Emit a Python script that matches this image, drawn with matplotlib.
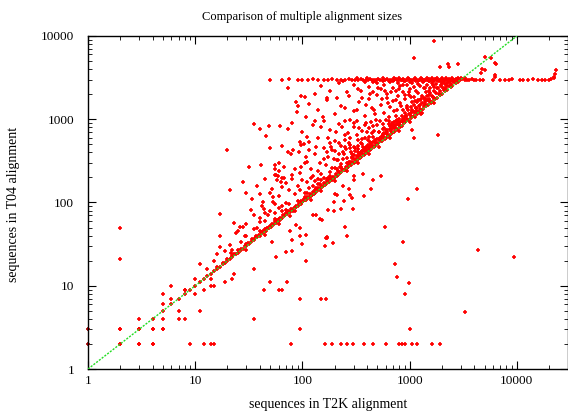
import matplotlib
matplotlib.use("Agg")
import matplotlib.pyplot as plt
from matplotlib.ticker import FixedLocator, NullFormatter, FuncFormatter
import numpy as np

plt.rcParams['font.family'] = ['Liberation Serif', 'DejaVu Serif']

title = "Comparison of multiple alignment sizes"
xlabel = "sequences in T2K alignment"
ylabel = "sequences in T04 alignment"
major_ticks = [1, 10, 100, 1000, 10000]

# points close to the diagonal (T2K size, T04 size)
diag = [(2,2),(3,3),(4,4),(5,5),(6,6),(7,7),(8,8),(8,9),(9,9),(10,10),(11,11),(12,12),(13,13),(14,14),(15,15),(16,16),(16,17),(17,17),(18,18),(18,19),(19,19),(20,20),(20,21),(21,21),(22,22),(22,23),(23,24),(24,24),(25,25),(25,27),(26,26),(27,28),(28,28),(29,30),(30,30),(30,32),(31,33),(32,32),(33,34),(34,36),(35,35),(36,37),(37,40),(38,38),(39,41),(40,40),(41,44),(42,43),(43,45),(44,44),(45,48),(46,46),(47,49),(48,50),(49,49),(50,52),(51,51),(52,55),(53,53),(55,56),(56,60),(57,57),(58,61),(60,60),(61,63),(62,66),(63,64),(65,65),(66,70),(67,68),(69,70),(70,74),(71,72),(72,72),(74,78),(75,76),(77,77),(78,84),(80,81),(81,80),(83,86),(85,85),(87,92),(88,89),(90,90),(92,97),(94,95),(96,96),(98,104),(100,100),(102,103),(104,110),(106,107),(108,108),(110,118),(112,113),(115,115),(117,125),(120,121),(122,122),(125,132),(127,128),(130,130),(132,140),(135,136),(138,138),(140,150),(143,144),(146,146),(150,158),(153,154),(156,156),(160,171),(163,164),(166,166),(170,180),(173,174),(176,176),(180,193),(184,185),(188,188),(192,205),(196,197),(200,200),(205,220),(210,211),(215,215),(220,235),(225,226),(230,230),(236,250),(242,243),(248,248),(255,270),(260,262),(266,266),(272,290),(278,279),(285,285),(292,310),(300,301),(307,307),(315,335),(322,323),(330,330),(338,360),(346,347),(355,355),(364,385),(372,374),(380,380),(390,415),(400,401),(410,410),(420,445),(430,432),(440,440),(452,480),(463,465),(475,475),(487,520),(500,502),(512,512),(525,560),(540,542),(555,555),(570,610),(585,587),(600,600),(618,660),(635,637),(650,650),(670,720),(690,692),(710,710),(730,780),(750,752),(770,770),(795,850),(815,818),(840,840),(865,925),(890,892),(915,915),(945,1010),(970,973),(1000,1000),(1030,1100),(1060,1063),(1100,1100),(1130,1210),(1170,1172),(1210,1210),(1250,1340),(1290,1292),(1330,1330),(1380,1480),(1420,1425),(1470,1470),(1520,1640),(1570,1575),(1620,1620),(1680,1800),(1740,1745),(1800,1800),(1870,2000),(1940,1945),(2000,2000),(2080,2230),(2160,2165),(2240,2240),(2330,2480),(2420,2425),(2500,2500),(2600,2780),(2700,2705),(2800,2800),(2900,3000),
        (30,27),(45,41),(60,55),(85,78),(120,108),(150,136),(200,182),(260,240),(330,300),(420,385),(520,470),(650,590),(800,730),(1000,920),(1300,1200),(1700,1580),
        (40,46),(55,64),(70,82),(90,105),(110,130),(140,165),(180,210),(230,270),(290,340),(370,430),(460,540),(580,680),(720,850),(900,1060),(1150,1350),(1450,1700),
        (105,115),(135,150),(175,195),(215,240),(280,310),(350,390),(440,490),(560,620),(700,780),(880,980),(1100,1230),(1400,1560)]

# points in the triangle above the diagonal
upper = [(73,2360),(98,1890),(106,1850),(150,2500),(180,2200),(220,2700),(260,2100),(300,2600),(330,2300),(380,2800),(420,2450),(460,2100),(500,2700),(540,2300),(580,2600),(620,2000),(660,2800),(700,2400),(740,2200),(780,2700),(820,2500),(860,2100),(900,2850),(950,2600),(1000,2300),(1050,2750),(1100,2450),(1150,2200),(1200,2650),(1260,2500),(1320,2800),(1380,2350),(1450,2600),(1520,2200),(1600,2750),(1680,2450),(1760,2650),(1850,2900),(1950,2550),(2050,2800),(2150,2400),(2250,2700),(2400,2900),(2600,2950),(700,2900),(850,2950),(1000,2800),(1150,2900),(1300,2950),(1500,2850),(1700,2950),(460,2800),(560,2900),(240,2900),(130,2000),(170,1800),
         (88,1630),(90,1440),(89,1230),(115,1530),(107,1060),(140,1300),(170,1700),(200,1150),(230,1450),(270,1900),(300,1250),(340,1600),(380,1100),(420,1750),(450,1350),(500,1950),(540,1500),(580,1200),(620,1800),(660,1400),(700,1650),(740,1100),(780,1900),(820,1550),(860,1300),(900,1750),(940,1450),(980,1950),(1020,1200),(1060,1600),(1100,1850),(1150,1350),(1200,1700),(1250,1500),(1300,1900),(1350,1450),(1400,1750),(1500,1950),(1550,1650),(1650,1850),(1700,1750),(1900,1950),(360,1800),(480,1150),(640,1050),(760,1300),(920,1100),(1040,1850),(1120,1050),(1180,1250),(1280,1150),(210,1800),(250,1350),(155,1050),
         (35,865),(40,754),(49,826),(62,826),(73,754),(46,626),(94,531),(103,510),(114,535),(80,900),(100,700),(125,850),(140,600),(160,950),(180,750),(200,550),(220,880),(250,650),(280,980),(300,800),(330,560),(360,720),(390,900),(420,620),(460,820),(490,980),(520,700),(560,880),(600,750),(640,960),(680,850),(720,920),(760,990),(800,880),(250,950),(320,950),(380,600),(450,680),(530,600),(570,650),(620,700),(660,760),(700,800),(740,850),(780,920),(850,950),(180,520),(150,800),(130,950),(110,620),(270,520),(350,520),(430,540),(480,560),(520,580),(550,610),
         (20,422),(98,485),(114,426),(82,426),(93,400),(73,400),(78,380),(109,353),(32,264),(41,280),(55,280),(55,256),(60,300),(67,264),(60,242),(56,214),(57,214),(67,198),(80,214),(85,254),(96,268),(94,225),(106,296),(110,308),(50,450),(65,480),(120,250),(130,380),(145,300),(160,450),(175,350),(190,260),(200,420),(215,320),(230,480),(245,380),(260,300),(275,450),(290,350),(310,420),(330,480),(350,400),(370,460),(390,430),(410,490),(430,470),(135,460),(150,220),(165,280),(180,230),(195,330),(210,250),(225,270),(240,330),(255,440),(270,310),(285,400),(300,370),(320,360),(340,380),(360,420),(380,440),(400,470),(125,210),(140,240),(170,400),(185,470),(220,380),(250,470),(280,490),(300,470),(330,440),
         (21,140),(34,110),(43,100),(53,100),(59,211),(58,186),(63,178),(64,155),(52,144),(53,117),(30,130),(38,160),(45,190),(50,130),(60,120),(70,170),(75,140),(80,190),(85,125),(90,160),(95,140),(100,185),(105,130),(110,175),(115,150),(120,195),(125,160),(130,180),(135,145),(140,190),(145,165),(150,185),(160,195),(170,190),(180,198),(65,195),(40,125),(28,175),
         (17,72),(17,40),(17,29),(21,31),(22,27),(21.5,25),(44,83),(45,74),(40,58),(23,57),(26,51),(28,51),(29,40),(33,81),(24,43),(27,34),(25,45),(30,55),(35,70),(38,50),(42,90),(48,70),(55,95),(60,85),(65,90),(70,98),(30,40),(35,48),(40,65),(50,80),(45,60),(55,75),(65,80),(75,95),(11,18),(6,10),(10,12),(5,8),(3,4),(8,9),(2,50),(2,21),(13,16),(15,20),(19,26),(16,24)]

# extra points in the dense part of the triangle
upper_dense = [(200,260),(210,320),(230,290),(240,400),(260,340),(270,280),(290,380),(300,330),(310,450),(330,400),(340,360),(360,500),(380,420),(390,470),(410,560),(420,480),(440,520),(460,620),(480,540),(500,580),(520,700),(540,620),(560,660),(580,780),(600,690),(620,740),(650,820),(670,760),(690,900),(720,840),(740,960),(760,880),(790,1000),(810,930),(840,1100),(870,1000),(900,1200),(930,1080),(960,1300),(990,1150),(1020,1400),(1060,1250),(1100,1500),(1140,1350),(1180,1600),(1220,1450),(1260,1700),(1300,1550),(1350,1800),(1400,1650),(1450,1900),(1500,1750),(1560,2050),(1620,1900),(1680,2200),(1750,2050),(1820,2350),(1900,2200),(1980,2500),(2060,2350),(2150,2650),(2250,2500),(2350,2800),(2450,2650),(2550,2900),
               (320,1300),(350,2200),(390,1500),(430,2000),(470,1300),(510,2400),(550,1750),(590,2200),(630,1550),(670,2100),(710,1250),(750,1700),(790,2300),(830,1450),(870,2600),(910,1950),(950,1350),(990,2150),(1050,1300),(1120,1650),(1190,2050),(1270,1750),(1350,2400),(1430,2150),(1550,2350),(1650,2550),(1800,2350),(2000,2700),
               (160,330),(175,600),(190,430),(205,700),(220,520),(235,800),(250,560),(265,680),(280,600),(300,900),(320,650),(340,780),(360,580),(380,860),(400,700),(420,780),(440,920),(470,720),(500,860),(530,940),(560,760),(600,980),(640,870)]

# points along the horizontal line near 3000
band = [(50,3000),(64,3000),(75,3050),(90,2950),(100,3000),(112,3000),(125,3050),(140,3000),(160,2950),(175,3000),(190,3050),(210,3000),(230,2950),(250,3000),(270,3050),(290,3000),(310,2950),(330,3000),(350,3050),(370,3000),(390,2950),(410,3000),(430,3050),(450,3000),(470,2950),(490,3000),(510,3050),(530,3000),(560,2950),(590,3000),(620,3050),(650,3000),(680,2950),(710,3000),(740,3050),(770,3000),(800,2950),(830,3000),(860,3050),(890,3000),(920,2950),(950,3000),(980,3050),(1010,3000),(1050,2950),(1090,3000),(1130,3050),(1170,3000),(1210,2950),(1250,3000),(1300,3050),(1350,3000),(1400,2950),(1450,3000),(1500,3050),(1560,3000),(1620,2950),(1680,3000),(1740,3050),(1800,3000),(1870,2950),(1940,3000),(2010,3050),(2080,3000),(2160,2950),(2240,3000),(2320,3050),(2400,3000),(2500,2950),(2600,3000),(2700,3050),(2800,3000),(2950,3000),(3100,3050),(3250,3000),(3400,2950),(3600,3000),(3800,3050),(4000,3000),(4200,2950),(4500,3000),(4800,3000),(5950,3000),(6900,3000),(7700,3000),(8500,3000),(9100,3050),(10600,3000),(11500,3000),(12600,3000),(14000,3050),(15700,3000),(17000,3000),(18500,3000),(20000,3000),(21000,3050),(22000,3100),(22500,3500),(23400,3900),(22000,3200),
        (320,3150),(400,3150),(480,2880),(560,3150),(640,2880),(720,3150),(800,3150),(880,2880),(960,3150),(1040,2880),(1120,3150),(1200,2880),(1280,3150),(1360,2880),(1440,3150),(1520,2880),(1600,3150),(1700,2880),(1800,3150),(1900,2880),(2000,3150),(2100,2880),(2200,3150),(2350,2880),(2500,3150),(2650,2880),(2800,3150),(3000,3100),(3300,3100),
        (1900,4300),(2350,4300),(2800,4650),(4600,3600),(4700,4000),(6400,4650),(6300,3400),(6300,3200),(1700,8700),(1090,5500),(5000,5600),(5700,5500),(6300,4750),(5100,3900),(2300,4600)]

# scattered points below the diagonal
lower = [(365,217),(540,209),(455,184),(300,209),(300,184),(240,156),(270,144),(277,122),(290,113),(375,119),(435,144),(1180,144),(960,110),(200,128),(210,123),(195,100),(245,105),(230,84),(295,83),(172,81),(195,78),(153,62),(250,51),(590,51),(260,40),(165,37),(193,33),(161,30),(860,34),(760,12.8),(980,10.9),(910,7.9),(95,7),(148,7),(167,7),(3300,4.9),(1000,3),(95,3),(4300,27),(9500,22),(735,18),(1090,590),(1050,740),(1830,640),
         (76,68),(88,53),(94,49),(94,40),(100,32),(76,46),(168,37),(126,70),(133,70),(52,34),(57,22),(71,25.6),(109,20),(109,41),(147,64),(168,38),(80,35),(80,26),(35,16),(44,9),(50,11),(61,9),(65,9),(72,11),(19,11),(22,12),(23,14),(35,4),(12,9),(14,12),(14,10),(15,10),(10,8),(11,5),(8,4),(7,5),(7,4),(5,4),(5,3),(5,6),(6,7),(4,3),(3,2),(4,2),(2,3),(3,3)]

# points on the rows T04 = 2 and T04 = 3
row2_x = [2, 3, 4, 9, 12, 14, 15, 79, 164, 188, 228, 259, 295, 373, 453, 599, 791, 844, 900, 1047, 1165, 1607, 1905]
row3_x = [2, 3, 4, 5]
# darker marks on the left axis
dark_x = [1, 1]
dark_y = [2, 3]

fig = plt.figure(figsize=(5.68, 4.11), dpi=100)
ax = fig.add_axes([88/568, 42/411, 480/568, 333/411])

pts = diag + upper + upper_dense + band + lower + [(x, 2) for x in row2_x] + [(x, 3) for x in row3_x]
px = [p[0] for p in pts]
py = [p[1] for p in pts]
ax.plot(px, py, linestyle='none', marker='+', color='#ff0000', markersize=3.4, markeredgewidth=1.2, zorder=2)
ax.plot(dark_x, dark_y, linestyle='none', marker='+', color='#aa0000', markersize=3.4, markeredgewidth=1.2, zorder=2, clip_on=False)

diag_line = [1, 10000]
ax.plot(diag_line, diag_line, color='#22dd22', linewidth=1.0, linestyle=(0, (1.5, 1.0)), zorder=3)

ax.set_xscale('log')
ax.set_yscale('log')
ax.set_xlim(1, 30000)
ax.set_ylim(1, 10000)

fmt = FuncFormatter(lambda v, p: f"{int(round(v))}")
ax.xaxis.set_major_locator(FixedLocator(major_ticks))
ax.yaxis.set_major_locator(FixedLocator(major_ticks))
ax.xaxis.set_major_formatter(fmt)
ax.yaxis.set_major_formatter(fmt)
ax.xaxis.set_minor_formatter(NullFormatter())
ax.yaxis.set_minor_formatter(NullFormatter())
ax.tick_params(which='both', direction='in', top=True, right=True, labelsize=9.5, color='black')
ax.tick_params(which='major', length=6, width=0.8)
ax.tick_params(which='minor', length=3, width=0.6)
ax.tick_params(axis='x', which='major', pad=4)
ax.tick_params(axis='y', which='major', pad=10)
for s in ax.spines.values():
    s.set_linewidth(1.0)

fig.text(302/568, 1 - 17/411, title, fontsize=9, ha='center', va='center')
fig.text(328/568, 1 - 404/411, xlabel, fontsize=10, ha='center', va='center')
fig.text(14/568, 1 - 204/411, ylabel, fontsize=10, ha='center', va='center', rotation=90)

fig.savefig("out.png", dpi=100)
